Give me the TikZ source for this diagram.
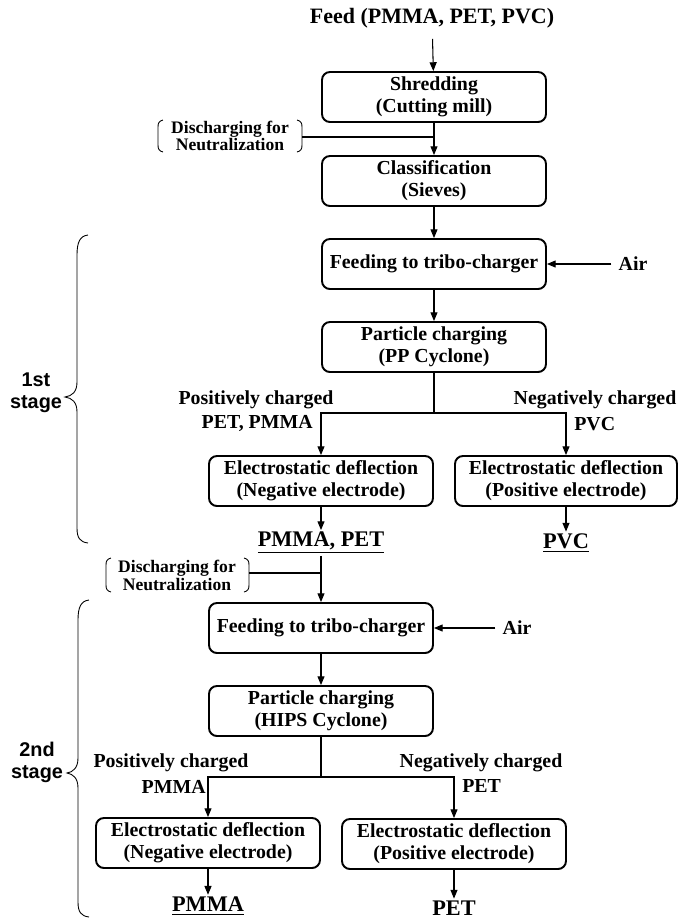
\documentclass[tikz,border=0pt]{standalone}
\usepackage{fontspec}
\setmainfont{Liberation Serif}
\setsansfont{Liberation Sans}
\usetikzlibrary{arrows.meta}
\begin{document}
\begin{tikzpicture}[x=0.02cm,y=-0.02cm,
 box/.style={draw,line width=1.1pt,rounded corners=4.5pt,minimum width=4.48cm,minimum height=1cm,align=center,inner sep=1pt,font=\bfseries\fontsize{11.3}{12.5}\selectfont},
 lbl/.style={font=\bfseries\fontsize{11.3}{12.5}\selectfont,inner sep=0pt,align=center},
 outl/.style={font=\bfseries\fontsize{12.7}{14}\selectfont,inner sep=1pt},
 disctxt/.style={font=\bfseries\fontsize{10}{8.8}\selectfont,align=center,inner sep=0pt},
 stagetxt/.style={font=\sffamily\bfseries\fontsize{11.3}{12.5}\selectfont,align=center,inner sep=0pt},
 arr/.style={-{Triangle[length=5pt,width=4pt]},line width=0.6pt},
 ln/.style={line width=0.6pt},
 brk/.style={line width=0.5pt}]
\useasboundingbox (0,0) rectangle (679,921);
\fill[white] (0,0) rectangle (679,921);

% ---------- top part ----------
\node[lbl,font=\bfseries\fontsize{12.5}{14}\selectfont,inner sep=6pt] (feed) at (432,18) {Feed (PMMA, PET, PVC)};
\node[box] (shred) at (434,97) {Shredding\\(Cutting mill)};
\node[box] (class) at (434,181) {Classification\\(Sieves)};
\node[box] (feed1) at (434,264) {Feeding to tribo-charger};
\node[box] (charge1) at (434,347) {Particle charging\\(PP Cyclone)};
\node[box] (elecL1) at (321,481) {Electrostatic deflection\\(Negative electrode)};
\node[box,minimum width=4.44cm] (elecR1) at (566,481) {Electrostatic deflection\\(Positive electrode)};
\node[outl] (o1L) at (321,543) {\underline{PMMA, PET}};
\node[outl] (o1R) at (566,543) {\underline{PVC}};
\node[lbl,inner sep=4pt] (air1) at (633,264) {Air};

\node[disctxt] (disc1) at (230,136) {Discharging for\\Neutralization};
\draw[brk] (163,120) .. controls (159,121) and (158,123) .. (158,127) -- (158,145) .. controls (158,149) and (159,151) .. (163,152);
\draw[brk] (297,120) .. controls (301,121) and (302,123) .. (302,127) -- (302,145) .. controls (302,149) and (301,151) .. (297,152);
\coordinate (d1) at (302,137);
\coordinate (j1) at (434,137);

\draw[arr] (feed) -- (shred);
\draw[arr] (shred) -- (class);
\draw[ln] (d1) -- (j1);
\draw[arr] (class) -- (feed1);
\draw[arr] (air1) -- (feed1);
\draw[arr] (feed1) -- (charge1);
\coordinate (s1) at (434,413);
\draw[ln] (charge1.south) -- (s1);
\draw[arr] (s1) -| (elecL1.north);
\draw[arr] (s1) -| (elecR1.north);
\draw[arr] (elecL1) -- (o1L);
\draw[arr] (elecR1) -- (o1R);

\node[lbl] (pos1) at (256,400) {Positively charged};
\node[lbl,anchor=east] (pos1b) at (313,423) {PET, PMMA};
\node[lbl] (neg1) at (595,400) {Negatively charged};
\node[lbl,anchor=west] (neg1b) at (574,424) {PVC};

% ---------- second stage ----------
\node[disctxt] (disc2) at (177,575) {Discharging for\\Neutralization};
\draw[brk] (111,558) .. controls (107,559) and (106,561) .. (106,565) -- (106,585) .. controls (106,589) and (107,591) .. (111,592);
\draw[brk] (244,558) .. controls (248,559) and (249,561) .. (249,565) -- (249,585) .. controls (249,589) and (248,591) .. (244,592);
\coordinate (d2) at (249,573);
\coordinate (j2) at (321,573);

\node[box] (feed2) at (321,628) {Feeding to tribo-charger};
\node[box] (charge2) at (321,711) {Particle charging\\(HIPS Cyclone)};
\node[box] (elecL2) at (208,843) {Electrostatic deflection\\(Negative electrode)};
\node[box] (elecR2) at (454,844) {Electrostatic deflection\\(Positive electrode)};
\node[outl] (o2L) at (208,906) {\underline{PMMA}};
\node[outl] (o2R) at (454,908) {PET};
\node[lbl,inner sep=4pt] (air2) at (517,628) {Air};

\draw[arr] (o1L) -- (feed2);
\draw[ln] (d2) -- (j2);
\draw[arr] (air2) -- (feed2);
\draw[arr] (feed2) -- (charge2);
\coordinate (s2) at (321,777);
\draw[ln] (charge2.south) -- (s2);
\draw[arr] (s2) -| (elecL2.north);
\draw[arr] (s2) -| (elecR2.north);
\draw[arr] (elecL2) -- (o2L);
\draw[arr] (elecR2) -- (o2R);

\node[lbl] (pos2) at (171,763) {Positively charged};
\node[lbl,anchor=east] (pos2b) at (206,787) {PMMA};
\node[lbl] (neg2) at (481,763) {Negatively charged};
\node[lbl,anchor=west] (neg2b) at (462,786) {PET};

% ---------- braces ----------
\draw[brk] (88,235) .. controls (80,236) and (77,242) .. (77,255) -- (77,382) .. controls (77,392) and (72,396) .. (65,397) .. controls (72,398) and (77,402) .. (77,412) -- (77,528) .. controls (77,538) and (80,542) .. (88,543);
\node[stagetxt] (st1) at (36,393) {1st\\stage};
\draw[brk] (89,600) .. controls (81,601) and (78,607) .. (78,620) -- (78,758) .. controls (78,768) and (73,772) .. (67,773) .. controls (73,774) and (78,778) .. (78,788) -- (78,902) .. controls (78,912) and (81,916) .. (89,917);
\node[stagetxt] (st2) at (37,762) {2nd\\stage};
\end{tikzpicture}
\end{document}
